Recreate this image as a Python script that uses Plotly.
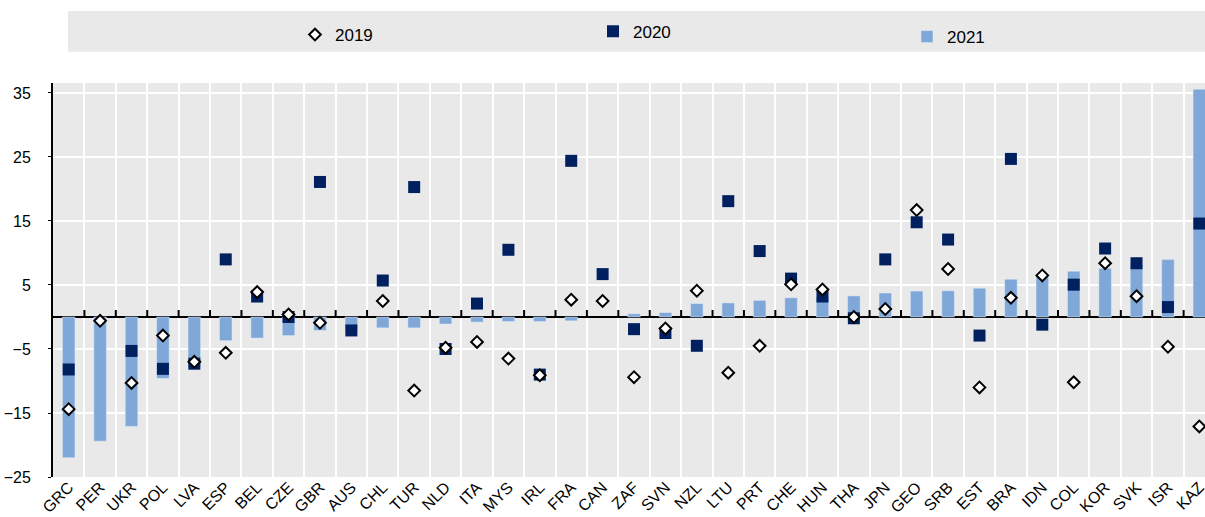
import plotly.graph_objects as go

countries = ["GRC", "PER", "UKR", "POL", "LVA", "ESP", "BEL", "CZE", "GBR", "AUS",
             "CHL", "TUR", "NLD", "ITA", "MYS", "IRL", "FRA", "CAN", "ZAF", "SVN",
             "NZL", "LTU", "PRT", "CHE", "HUN", "THA", "JPN", "GEO", "SRB", "EST",
             "BRA", "IDN", "COL", "KOR", "SVK", "ISR", "KAZ"]

v2021 = [-22.0, -19.4, -17.1, -9.6, -7.8, -3.7, -3.3, -2.9, -2.1, -2.0,
         -1.7, -1.7, -1.1, -0.8, -0.7, -0.7, -0.6, None, 0.5, 0.7,
         2.1, 2.2, 2.6, 3.0, 3.1, 3.3, 3.75, 4.05, 4.1, 4.5,
         5.9, 6.35, 7.15, 7.6, 8.3, 9.0, 35.6]

v2020 = [-8.2, None, -5.3, -8.1, -7.3, 9.0, 3.2, 0.0, 21.1, -2.1,
         5.7, 20.3, -5.0, 2.1, 10.5, -9.0, 24.4, 6.7, -1.9, -2.5,
         -4.5, 18.1, 10.3, 6.0, 3.2, -0.2, 9.0, 14.8, 12.1, -2.9,
         24.7, -1.2, 5.05, 10.7, 8.4, 1.55, 14.6]

v2019 = [-14.4, -0.6, -10.3, -2.9, -7.0, -5.6, 3.9, 0.4, -0.9, None,
         2.5, -11.5, -4.8, -3.9, -6.5, -9.1, 2.7, 2.5, -9.4, -1.8,
         4.1, -8.7, -4.5, 5.1, 4.3, 0.0, 1.25, 16.7, 7.5, -11.0,
         3.0, 6.5, -10.2, 8.4, 3.25, -4.65, -17.1]

y_ticks = [-25, -15, -5, 5, 15, 25, 35]

FONT = "Liberation Sans, Arial, sans-serif"
LIGHT = "#7FA8D9"
DARK = "#002060"
BG = "#E9E9E9"

fig = go.Figure()
fig.add_trace(go.Bar(x=countries, y=v2021, name="2021", marker_color=LIGHT,
                     width=0.4, legend="legend3", showlegend=True))
fig.add_trace(go.Scatter(x=countries, y=v2020, name="2020", mode="markers",
                         marker=dict(symbol="square", size=12, color=DARK),
                         legend="legend2", showlegend=True))
fig.add_trace(go.Scatter(x=countries, y=v2019, name="2019", mode="markers",
                         marker=dict(symbol="diamond", size=9, color="white",
                                     line=dict(color="black", width=2)),
                         legend="legend", showlegend=True))

shapes = []
# grey legend band
shapes.append(dict(type="rect", xref="paper", yref="paper",
                   x0=(68 - 53) / 1152, x1=1.0, y0=(477 - 51.7) / 394, y1=(477 - 11) / 394,
                   fillcolor=BG, line=dict(width=0), layer="below"))
# tick marks on the zero line at category boundaries
for i in range(1, len(countries)):
    shapes.append(dict(type="line", xref="x", yref="y", x0=i - 0.5, x1=i - 0.5,
                       ysizemode="pixel", yanchor=0, y0=0, y1=7,
                       line=dict(color="black", width=2)))

legend_common = dict(orientation="h", bgcolor="rgba(0,0,0,0)",
                     font=dict(family=FONT, size=17, color="black"),
                     xanchor="left", yanchor="middle")

fig.update_layout(
    width=1205, height=517,
    margin=dict(l=53, r=0, t=83, b=40, autoexpand=False),
    paper_bgcolor="white", plot_bgcolor=BG,
    font=dict(family=FONT, size=16, color="black"),
    showlegend=True,
    shapes=shapes,
    legend=dict(x=(295 - 53) / 1152, y=(477 - 35) / 394, **legend_common),
    legend2=dict(x=(593 - 53) / 1152, y=(477 - 31.7) / 394, **legend_common),
    legend3=dict(x=(907 - 53) / 1152, y=(477 - 37) / 394, **legend_common),
    xaxis=dict(
        type="category", range=[-0.5, 36.18], automargin=False,
        tickangle=-45, tickson="boundaries", ticks="",
        ticklabelstandoff=-3,
        showgrid=True, gridcolor="white", gridwidth=2,
        showline=False, zeroline=False,
        tickfont=dict(family=FONT, size=16),
    ),
    yaxis=dict(
        range=[-25, 36.56], tickvals=y_ticks, automargin=False,
        showgrid=True, gridcolor="white", gridwidth=2,
        zeroline=True, zerolinecolor="black", zerolinewidth=2,
        showline=True, linecolor="black", linewidth=2,
        ticks="outside", ticklen=3, tickcolor="black", tickwidth=1,
        ticklabelstandoff=14,
        tickfont=dict(family=FONT, size=16),
    ),
)

fig.write_html("out.html", config={"displayModeBar": False},
               post_script="document.body.style.margin='0';document.body.style.overflow='hidden';")
